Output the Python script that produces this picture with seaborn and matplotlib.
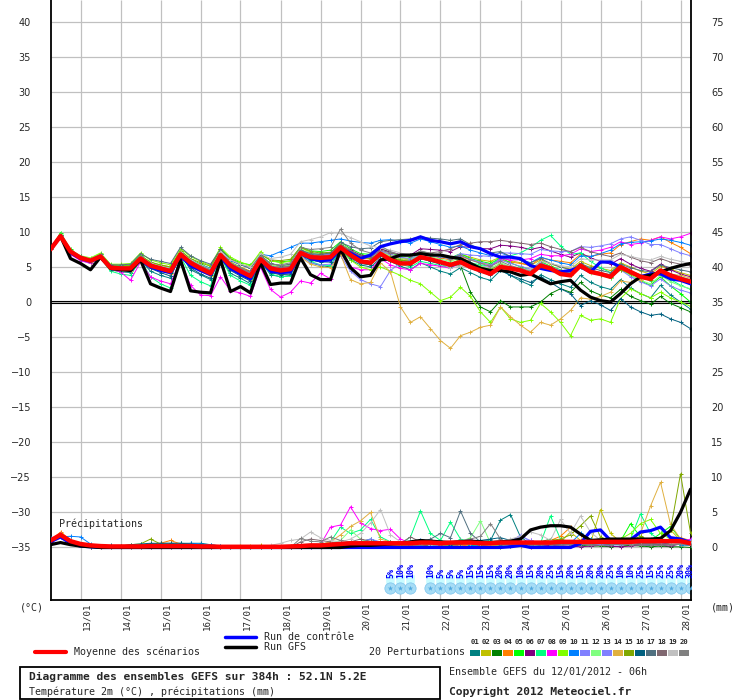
import matplotlib
matplotlib.use("Agg")
import matplotlib.pyplot as plt
import matplotlib.transforms as mtransforms
from matplotlib.patches import Rectangle
from matplotlib.lines import Line2D
import seaborn as sns

# --- data (6-hourly, 0..384h from 12/01 06h) ---
hours = list(range(0, 385, 6))
day_hours = list(range(18, 385, 24))
day_labels = ["13/01", "14/01", "15/01", "16/01", "17/01", "18/01", "19/01", "20/01",
              "21/01", "22/01", "23/01", "24/01", "25/01", "26/01", "27/01", "28/01"]

member_ids = ["01", "02", "03", "04", "05", "06", "07", "08", "09", "10",
              "11", "12", "13", "14", "15", "16", "17", "18", "19", "20"]
member_colors = ["#008080", "#c0c000", "#008000", "#ff8000", "#00ff00", "#800080", "#00ff80",
                 "#ff00ff", "#80ff00", "#0080ff", "#8080ff", "#80ff80", "#8080ff", "#e0b040",
                 "#80a800", "#006080", "#507080", "#806870", "#c0c0c0", "#808080"]

# 2m temperature (°C)
t_mean = [7.5,9.4,7.2,6.3,5.9,6.5,4.9,4.8,4.8,6.2,5.2,4.8,4.4,6.8,5.6,4.8,4.1,6.7,5.2,4.4,3.7,6.1,4.8,4.5,4.7,7.0,6.4,6.3,6.4,7.8,6.7,5.8,5.6,
          6.9,6.0,5.5,5.5,6.4,6.1,5.7,5.3,5.7,5.0,4.5,4.0,5.0,4.8,4.5,4.0,5.2,4.8,4.0,3.8,5.2,4.3,4.0,3.6,5.0,4.3,3.6,3.3,4.5,3.8,3.3,2.9]
t_ctrl = [7.5,9.4,7.0,6.2,5.8,6.4,5.0,4.7,4.6,6.0,5.0,4.5,4.2,6.6,5.2,4.5,3.9,6.4,4.8,4.0,3.3,6.0,4.4,4.2,4.3,6.9,6.2,5.9,6.0,7.6,7.0,6.2,6.7,
          7.9,8.3,8.6,8.8,9.3,8.8,8.6,8.3,8.6,7.9,7.6,6.9,6.4,6.4,6.2,5.2,4.8,4.5,4.3,4.5,5.0,4.3,5.7,5.7,5.0,4.3,3.6,4.0,4.0,3.3,3.1,2.6]
t_gfs = [7.5,9.4,6.2,5.5,4.6,6.4,4.8,4.6,4.5,6.0,2.6,2.0,1.5,6.0,1.6,1.4,1.3,6.0,1.5,2.2,1.3,5.6,2.5,2.7,2.7,6.3,3.9,3.2,3.2,7.5,4.9,3.6,3.8,
         6.0,6.2,6.7,6.7,6.9,6.7,6.7,6.4,6.2,5.5,4.8,4.5,4.5,4.3,3.8,4.0,3.3,2.6,2.9,3.1,1.7,0.7,0.2,0.0,1.2,2.6,3.6,3.8,4.3,4.8,5.2,5.5]

t01 = [7.5,9.5,7.0,6.1,5.6,6.4,4.6,4.3,4.2,6.0,4.4,3.8,3.4,6.9,4.6,3.9,3.2,6.5,4.1,3.4,2.6,5.8,3.9,3.6,3.8,6.8,5.6,5.2,5.0,7.6,6.0,5.3,5.0,
       6.2,5.8,5.1,4.6,5.6,5.0,4.4,4.0,4.9,4.2,3.5,3.1,4.5,3.8,3.0,2.4,3.9,3.2,2.6,2.1,3.8,2.8,2.2,1.8,3.2,2.0,1.2,0.6,2.4,1.0,0.0,-1.0]
t02 = [7.5,9.6,7.3,6.5,6.1,6.6,5.3,5.2,5.1,6.5,5.6,5.3,5.0,7.2,6.0,5.3,4.7,7.0,5.7,5.0,4.4,6.6,5.4,5.0,5.1,7.3,6.9,6.8,6.9,8.2,7.3,6.6,6.4,
       7.2,6.8,6.3,6.1,7.0,6.7,6.5,6.2,6.8,6.4,6.0,5.8,6.4,5.9,5.6,5.2,6.0,5.4,5.0,4.7,5.8,5.2,4.8,4.5,5.6,5.0,4.4,4.0,5.1,4.7,4.2,3.8]
t03 = [7.5,9.5,7.2,6.2,5.8,6.5,4.8,4.6,4.6,6.2,5.0,4.5,4.1,6.7,5.4,4.5,3.8,6.6,4.9,4.1,3.4,6.0,4.5,4.2,4.4,7.0,6.3,6.1,6.2,7.8,6.8,6.0,5.8,
       6.8,6.3,5.9,5.8,6.5,6.2,5.8,5.5,5.2,1.4,-0.7,-1.4,0.2,-0.7,-0.7,-0.7,0.0,1.2,1.9,1.4,2.8,1.6,1.0,0.6,1.8,0.8,0.2,-0.3,0.8,-0.2,-0.8,-1.4]
t04 = [7.5,9.4,7.3,6.4,6.0,6.6,5.1,5.0,5.1,6.3,5.5,5.2,4.9,6.9,5.9,5.2,4.6,6.9,5.6,4.9,4.3,6.4,5.3,5.0,5.2,7.2,6.8,6.7,6.8,8.0,7.1,6.3,6.1,
       7.2,6.6,6.2,6.0,6.8,6.6,6.3,6.0,6.5,6.0,5.6,5.3,6.0,5.7,5.5,5.2,6.3,6.0,5.8,5.6,6.8,6.5,6.8,7.0,8.2,8.6,9.0,8.8,9.3,8.5,7.8,6.9]
t05 = [7.5,9.9,7.5,6.5,6.1,6.9,5.3,5.2,5.3,6.7,5.6,5.1,4.8,7.3,6.1,5.4,4.8,7.6,6.2,5.6,5.3,6.9,5.9,5.7,5.9,7.9,7.3,7.2,7.4,8.6,7.6,6.9,6.8,
       7.7,7.0,6.6,6.4,7.2,6.9,6.6,6.3,6.9,6.2,5.8,5.5,6.3,5.6,5.0,4.6,5.8,5.1,4.6,4.2,5.5,4.7,4.0,3.4,4.8,3.9,3.0,2.4,3.6,2.3,1.2,0.0]
t06 = [7.5,9.3,7.1,6.3,6.0,6.6,5.0,4.9,4.9,6.4,5.4,5.0,4.7,7.1,5.9,5.1,4.5,7.0,5.6,4.9,4.3,6.5,5.4,5.1,5.3,7.4,6.9,6.8,7.0,8.3,7.4,6.7,6.5,
       7.6,7.1,6.8,6.7,7.6,7.5,7.4,7.2,7.9,7.8,7.6,7.6,8.1,8.0,7.8,7.5,7.8,7.3,6.8,6.4,7.0,6.3,5.8,5.4,6.2,5.4,4.8,4.4,5.4,4.6,4.0,3.6]
t07 = [7.5,9.5,7.0,6.0,5.5,6.3,4.4,4.0,3.8,6.0,3.6,2.6,2.0,6.5,3.8,2.9,2.3,6.4,3.8,3.0,2.4,6.0,4.0,3.6,3.7,7.0,5.8,5.3,5.2,7.8,6.3,5.6,5.3,
       6.5,6.0,5.4,5.0,5.8,5.5,5.2,4.9,6.0,5.6,5.3,5.1,6.4,6.6,7.0,7.8,8.8,9.5,8.0,6.8,7.0,5.8,4.9,4.2,5.4,4.4,3.6,3.0,4.4,3.2,2.4,1.8]
t08 = [7.5,9.2,6.8,5.9,5.5,6.3,4.7,4.3,3.1,5.7,3.6,3.0,2.6,6.0,2.4,1.0,0.9,3.6,1.6,1.3,0.8,5.0,1.8,0.7,1.4,3.0,2.7,4.1,3.3,6.9,5.0,4.6,4.6,
       6.2,5.3,4.8,4.6,5.5,5.3,5.1,4.8,5.6,5.2,5.0,5.0,6.2,6.0,6.0,6.2,6.8,6.6,6.6,6.8,7.6,7.2,7.4,7.8,8.6,8.2,8.4,8.8,9.3,9.0,9.3,9.8]
t09 = [7.5,9.6,7.4,6.6,6.3,7.0,5.4,5.4,5.5,7.0,6.0,5.6,5.3,7.6,6.5,5.8,5.2,7.8,6.4,5.7,5.2,7.2,5.9,5.6,5.8,7.8,7.0,6.6,6.4,7.6,6.0,5.0,4.6,
       5.0,4.4,3.8,3.1,2.6,1.4,0.2,0.7,2.1,0.8,-1.4,-2.9,-0.7,-2.4,-2.9,-2.6,-0.2,-1.4,-2.9,-4.8,-1.9,-2.6,-2.4,-2.9,0.5,1.9,1.2,0.6,1.4,0.6,0.0,-0.6]
t10 = [7.5,9.4,7.2,6.4,6.0,6.6,5.1,5.0,5.0,6.4,5.5,5.1,4.8,7.0,6.0,5.3,4.8,7.0,5.9,5.3,4.9,6.8,6.6,7.2,7.8,8.4,8.4,8.6,8.8,9.0,8.7,8.5,8.4,
       8.8,8.9,8.6,8.4,9.0,8.6,8.2,7.8,8.0,7.4,7.0,6.6,7.0,6.5,6.0,5.6,6.4,6.0,5.6,5.3,6.6,6.5,6.9,7.4,8.3,8.5,8.6,8.7,9.0,8.8,8.5,8.1]
t11 = [7.5,9.3,7.1,6.2,5.8,6.4,4.8,4.6,4.6,6.1,5.0,4.6,4.3,6.6,5.3,4.6,4.0,6.4,4.9,4.2,3.6,5.8,4.4,4.1,4.2,6.6,5.6,5.3,5.4,6.6,4.4,3.2,2.6,
       2.2,4.5,5.6,6.0,6.8,6.6,6.4,6.2,6.9,6.7,6.6,6.5,7.0,7.0,6.9,6.8,7.5,7.3,7.2,7.2,7.9,7.8,8.0,8.3,9.0,9.3,8.8,8.2,8.2,7.6,7.0,6.6]
t12 = [7.5,9.7,7.4,6.5,6.2,6.8,5.2,5.1,5.1,6.6,5.6,5.1,4.8,7.2,6.1,5.2,4.5,7.1,5.6,4.9,4.2,6.5,5.3,5.1,5.3,7.5,7.0,6.9,7.0,8.3,7.3,6.5,6.3,
       7.2,6.6,6.2,6.1,6.9,6.5,6.1,5.8,6.3,5.6,5.1,4.8,5.6,5.0,4.5,4.1,5.3,4.7,4.1,3.8,5.0,4.2,3.8,3.4,4.6,3.8,3.1,2.6,3.8,2.9,2.3,1.9]
t13 = [7.5,9.4,7.2,6.3,5.9,6.5,4.9,4.8,4.7,6.3,5.3,4.8,4.5,6.9,5.7,4.9,4.3,6.9,5.4,4.7,4.1,6.3,5.1,4.9,5.1,7.2,6.8,6.7,6.8,8.0,7.2,6.5,6.3,
       7.3,6.8,6.4,6.2,7.0,6.8,6.5,6.2,6.6,6.1,5.7,5.3,6.0,5.5,5.1,4.7,5.6,5.0,4.5,4.1,5.2,4.4,3.9,3.5,4.6,3.6,2.9,2.3,3.3,2.3,1.7,1.3]
t14 = [7.5,9.3,7.0,6.1,5.7,6.3,4.7,4.5,4.4,5.9,4.8,4.4,4.0,6.5,5.2,4.4,3.7,6.3,4.7,3.9,3.2,5.7,4.3,3.9,4.0,6.4,5.4,5.0,4.9,6.8,3.2,2.6,2.8,
       5.6,4.3,-0.7,-2.9,-2.1,-3.8,-5.5,-6.6,-4.8,-4.3,-3.6,-3.3,-0.7,-2.1,-3.3,-4.3,-2.9,-3.3,-2.4,-1.2,0.6,0.4,0.8,1.4,3.0,2.8,3.2,3.6,4.6,4.0,3.8,3.4]
t15 = [7.5,9.5,7.3,6.4,6.0,6.6,5.2,5.1,5.2,6.6,5.7,5.3,5.0,7.3,6.2,5.6,5.1,7.5,6.1,5.4,5.0,6.8,6.0,5.9,6.1,7.8,7.2,7.0,7.1,8.2,7.2,6.4,6.2,
       7.0,6.4,6.0,5.8,6.6,6.2,5.8,5.5,6.1,5.5,5.0,4.6,5.4,4.9,4.5,4.1,5.2,4.7,4.2,3.9,5.0,4.4,3.9,3.5,4.6,4.0,3.5,3.1,4.3,3.6,3.2,3.0]
t16 = [7.5,9.4,7.1,6.2,5.8,6.4,4.7,4.5,4.5,6.1,4.8,4.2,3.7,6.6,4.9,4.0,3.4,6.4,4.5,3.7,3.0,5.9,4.2,3.9,4.0,6.9,6.0,5.7,5.7,7.5,6.3,5.5,5.3,
       6.6,6.0,5.6,5.3,6.2,5.8,5.4,5.0,5.5,4.8,4.3,3.9,4.6,3.8,3.3,2.8,3.6,2.8,1.9,1.2,-0.5,0.2,-0.4,-1.2,0.5,-0.7,-1.4,-1.9,-1.7,-2.4,-2.9,-3.8]
t17 = [7.5,9.5,7.3,6.5,6.1,6.8,5.3,5.3,5.4,6.9,6.1,5.8,5.5,7.8,6.6,5.9,5.4,7.5,6.0,5.3,4.8,6.7,5.5,5.2,5.4,7.4,6.9,6.8,7.0,8.5,7.9,7.6,7.7,
       8.6,8.8,8.9,9.0,9.3,9.1,9.0,8.8,9.0,8.2,7.5,7.0,7.2,6.5,6.0,5.6,6.2,5.5,5.0,4.6,5.5,4.9,4.5,4.2,5.4,4.9,4.5,4.3,5.3,4.9,4.6,4.3]
t18 = [7.5,9.4,7.2,6.4,6.0,6.5,5.0,4.9,4.9,6.4,5.4,5.0,4.6,7.0,5.8,5.1,4.5,6.9,5.5,4.8,4.2,6.3,5.1,4.9,5.1,7.2,6.7,6.6,6.7,8.1,7.3,6.6,6.4,
       7.4,7.0,6.7,6.5,7.2,7.0,7.2,7.6,8.2,8.4,8.6,8.6,8.8,8.6,8.4,8.2,8.4,7.9,7.5,7.2,7.8,7.2,6.8,6.5,7.0,6.4,5.9,5.6,6.2,5.7,5.4,5.2]
t19 = [7.5,9.4,7.2,6.3,6.0,6.6,5.0,5.0,5.0,6.5,5.5,5.1,4.8,7.1,6.0,5.3,4.7,7.2,6.0,5.4,5.0,6.9,6.2,6.4,6.8,8.6,8.9,9.3,9.9,9.8,9.2,8.6,8.0,
       7.7,7.4,7.0,6.6,7.0,6.3,5.6,4.8,5.2,4.8,4.5,4.3,5.3,5.0,4.8,4.6,5.8,5.5,5.2,5.0,6.2,6.0,6.0,6.0,6.8,6.5,6.2,6.0,6.5,6.1,5.8,5.5]
t20 = [7.5,9.5,7.3,6.4,6.0,6.6,5.1,5.0,5.0,6.5,5.4,5.0,4.7,7.0,5.9,5.2,4.6,6.9,5.5,4.8,4.2,6.5,5.4,5.3,5.6,7.8,7.5,7.6,7.8,10.4,8.4,7.4,7.0,
       8.0,7.2,6.7,6.5,7.3,6.9,6.5,6.2,6.7,6.0,5.5,5.1,5.8,5.2,4.8,4.4,5.5,4.9,4.4,4.1,5.2,4.6,4.2,3.9,5.0,4.4,3.9,3.6,4.6,4.0,3.6,3.2]

# precipitation (mm / 6h)
p_mean = [1.0,1.8,0.9,0.5,0.3, 0.2,0.15,0.15,0.15,0.15, 0.2,0.2,0.2,0.2,0.2, 0.15,0.15,0.1,0.1,0.1, 0.1,0.1,0.1,0.1,0.15,
          0.2,0.3,0.3,0.4,0.5, 0.6,0.6,0.6,0.6,0.6, 0.6,0.6,0.7,0.7,0.6, 0.7,0.7,0.7,0.6,0.6, 0.7,0.7,0.7,0.7,0.7,
          0.7,0.8,0.8,0.8,0.8, 0.8,0.8,0.8,0.8,0.9, 0.9,0.9,0.9,0.9,0.6]
p_ctrl = [0.8,1.5,0.6,0.2,0.1, 0,0,0,0,0, 0,0,0,0,0, 0,0,0,0,0, 0,0,0,0,0,
          0,0,0,0,0, 0,0,0,0,0, 0,0,0,0,0, 0,0,0,0,0, 0.0,0.1,0.3,0.0,0.0,
          0.0,0.0,0.0,0.6,2.3, 2.5,1.0,0.9,1.1,2.2, 2.4,2.9,1.4,1.2,0.7]
p_gfs = [0.4,0.7,0.4,0.2,0.1, 0,0,0,0,0, 0,0,0,0,0, 0,0,0,0,0, 0,0,0,0,0,
         0,0,0,0,0, 0.2,0.3,0.3,0.4,0.5, 0.6,0.8,1.0,0.9,0.8, 0.7,0.8,0.9,0.8,0.7, 0.8,0.9,1.2,2.5,2.9,
         3.1,3.1,2.9,1.9,1.0, 1.1,1.2,1.2,1.2,1.2, 1.2,1.3,2.4,5.0,8.3]

p01 = [1.2,1.6,0.9,0.5,0.3, 0.2,0.1,0.1,0.2,0.3, 0.5,0.6,0.6,0.6,0.6, 0.6,0.4,0.2,0.1,0.1, 0.0,0.0,0.1,0.1,0.0,
       0.1,0.2,0.3,0.2,0.4, 0.5,0.8,1.2,0.6,0.4, 0.5,0.3,0.4,0.6,0.8, 0.5,0.4,0.6,0.8,1.0, 3.9,4.7,1.5,0.5,0.3,
       0.4,0.3,0.5,0.8,0.6, 0.4,0.3,1.2,0.5,0.4, 0.3,0.5,0.8,0.4,0.3]
p02 = [1.0,2.0,1.0,0.4,0.2, 0.1,0.1,0.1,0.1,0.2, 0.2,0.1,0.1,0.0,0.0, 0.0,0.0,0.1,0.1,0.2, 0.2,0.3,0.2,0.1,0.1,
       0.2,0.3,0.4,0.5,0.6, 0.8,0.6,0.5,0.4,0.3, 0.3,0.2,0.3,0.4,0.3, 0.2,0.3,0.4,0.5,0.6, 0.8,0.5,0.4,0.3,0.5,
       0.6,0.8,2.2,1.0,0.6, 5.4,2.0,0.8,0.6,0.5, 0.8,1.2,2.5,1.0,0.6]
p03 = [0.8,1.7,0.7,0.3,0.1, 0,0,0,0,0, 0,0,0,0,0, 0.1,0.2,0.1,0,0, 0,0,0,0,0.1,
       0.2,0.1,0.1,0.2,0.2, 0.3,0.2,0.2,0.2,0.3, 0.2,0.3,0.4,0.3,0.2, 0.2,0.4,0.6,0.3,0.2, 0.1,0.2,0.3,0.5,0.8,
       1.2,0.8,0.5,0.3,0.2, 0.2,0.1,0.2,0.3,0.2, 0.1,0.2,0.1,0.1,0.0]
p04 = [1.0,2.2,1.1,0.5,0.2, 0.1,0.1,0.0,0.0,0.1, 0.3,0.6,1.0,0.5,0.3, 0.2,0.1,0.1,0.0,0.0, 0.0,0.0,0.0,0.1,0.1,
       0.2,0.2,0.2,0.3,0.2, 0.4,0.6,0.5,0.4,0.3, 0.3,0.4,0.3,0.5,0.4, 0.3,0.2,0.4,0.5,0.4, 0.3,0.4,0.3,0.5,0.8,
       1.0,1.6,2.9,1.8,1.2, 0.8,0.5,0.4,0.6,0.8, 0.7,1.0,1.2,1.4,1.0]
p05 = [0.9,1.8,0.8,0.4,0.2, 0.1,0,0,0,0, 0,0.1,0.2,0.1,0, 0,0,0,0,0, 0,0,0,0,0,
       0.1,0.1,0.2,0.1,0.3, 0.4,0.6,0.5,0.8,0.6, 0.4,0.3,0.5,0.7,0.5, 0.4,0.6,0.3,0.2,0.4, 0.6,0.8,0.5,0.3,0.5,
       0.8,0.5,0.4,0.6,1.2, 0.8,0.6,0.9,3.4,1.5, 1.0,2.0,3.0,1.2,0.8]
p06 = [0.8,1.6,0.8,0.3,0.1, 0.0,0.0,0.1,0.2,0.1, 0,0,0,0,0, 0,0,0,0,0, 0,0,0,0,0,
       0.0,0.1,0.1,0.1,0.2, 0.2,0.3,0.2,0.4,0.3, 0.2,0.2,0.3,0.2,0.2, 0.3,0.4,0.5,0.4,0.3, 0.2,0.3,0.2,0.1,0.2,
       0.3,0.2,0.2,0.1,0.2, 0.3,0.2,0.1,0.2,0.3, 0.4,0.3,0.2,0.5,0.4]
p07 = [1.1,1.9,0.9,0.4,0.2, 0.1,0,0,0,0, 0,0,0,0.1,0.1, 0,0,0,0,0, 0,0,0,0,0,
       0.1,0.2,0.4,0.8,2.9, 2.0,2.5,4.0,1.5,0.8, 0.5,1.5,5.2,2.0,1.0, 3.6,1.2,0.8,0.5,0.6, 0.8,0.6,0.5,0.4,0.6,
       4.5,1.2,0.8,0.5,0.6, 0.5,0.4,0.6,1.2,4.8, 2.0,1.0,0.6,0.5,0.4]
p08 = [1.0,1.9,0.9,0.5,0.3, 0.2,0.1,0.1,0,0, 0,0,0,0,0, 0,0,0,0,0, 0,0.1,0.2,0.1,0.1,
       0.2,0.3,0.4,2.9,3.2, 5.8,3.5,2.7,2.4,2.6, 1.2,0.6,0.4,0.5,0.8, 0.6,0.8,1.2,0.6,0.5, 0.4,0.6,0.8,1.0,0.6,
       0.5,0.6,0.8,0.6,0.5, 0.4,0.6,0.5,0.8,0.6, 0.5,0.4,0.6,0.8,1.2]
p09 = [0.9,1.7,0.8,0.4,0.2, 0.1,0,0,0,0, 0,0,0,0.1,0, 0,0,0,0,0, 0,0,0,0,0.1,
       0.1,0.2,0.1,0.2,0.4, 0.6,0.4,0.5,0.3,0.2, 0.3,0.4,0.5,0.3,0.2, 0.4,0.6,0.8,0.5,0.3, 0.2,0.3,0.5,0.7,0.5,
       0.4,0.6,0.5,0.8,0.6, 0.5,0.8,1.2,2.0,3.4, 4.0,2.0,1.2,0.8,0.6]
p10 = [1.3,1.5,1.6,1.5,0.5, 0.2,0.1,0.1,0,0, 0,0.1,0.2,0.3,0.6, 0.5,0.4,0.2,0.1,0, 0,0,0,0,0.1,
       0.2,0.4,0.3,0.2,0.3, 0.5,0.4,0.3,0.2,0.4, 0.6,0.8,1.0,0.6,0.4, 0.3,0.5,0.4,0.3,0.5, 0.6,0.4,0.3,0.5,0.6,
       0.4,0.5,0.6,2.0,1.2, 0.8,0.6,0.5,0.4,0.6, 0.5,0.8,0.6,0.4,0.3]
p11 = [0.9,1.7,0.8,0.4,0.2, 0.1,0,0,0,0, 0,0,0,0,0, 0,0,0,0,0, 0,0,0,0,0,
       0.0,0.1,0.1,0.2,0.3, 0.5,0.8,1.2,0.8,0.5, 0.4,0.3,0.4,0.5,0.6, 0.8,1.0,0.6,0.5,0.4, 0.6,0.9,1.6,1.0,0.6,
       0.5,0.4,0.6,0.8,0.5, 0.4,0.3,0.4,0.5,0.6, 0.8,0.6,0.5,0.9,1.0]
p12 = [1.0,1.8,0.9,0.4,0.2, 0.1,0,0,0,0, 0,0,0,0,0, 0,0,0,0,0, 0,0,0,0,0,
       0.1,0.2,0.3,0.6,1.0, 2.5,1.2,0.6,0.4,0.3, 0.5,0.6,0.5,0.4,0.3, 0.6,0.8,1.4,3.8,0.6, 0.4,0.3,0.4,0.5,0.6,
       0.8,0.6,0.5,0.4,0.6, 0.8,1.0,0.6,0.5,0.8, 1.0,0.8,0.6,0.5,0.4]
p13 = [0.9,1.6,0.8,0.4,0.2, 0.1,0.1,0,0,0, 0,0,0,0,0, 0,0,0,0,0, 0,0,0,0,0,
       0.1,0.1,0.2,0.2,0.3, 0.4,0.3,0.5,0.6,0.4, 0.3,0.5,0.6,0.4,0.3, 0.5,0.4,0.6,0.8,0.6, 0.5,0.8,1.8,0.8,0.5,
       0.6,0.8,0.6,0.5,0.4, 0.5,0.6,0.8,0.6,0.5, 0.8,0.7,0.6,0.9,0.7]
p14 = [0.9,1.8,0.9,0.4,0.2, 0.1,0,0,0,0, 0,0,0,0,0, 0,0,0,0,0, 0,0,0,0,0,
       0.1,0.2,0.4,0.8,1.8, 3.0,3.8,5.0,1.2,0.8, 0.6,0.4,0.3,0.5,0.4, 0.3,0.4,0.5,0.4,0.3, 0.4,0.3,0.2,0.3,0.4,
       0.5,0.4,0.6,0.8,0.5, 0.6,0.5,0.8,1.2,2.0, 5.9,9.3,3.3,1.2,0.8]
p15 = [0.9,1.7,0.8,0.4,0.3, 0.2,0.1,0.2,0.4,0.5, 1.2,0.5,0.3,0.2,0.1, 0.1,0,0,0,0.1, 0.1,0.2,0.1,0.1,0.2,
       0.2,0.3,0.2,0.3,0.4, 0.5,0.4,0.3,0.5,0.4, 0.3,0.4,0.3,0.5,0.4, 0.3,0.5,0.6,0.4,0.5, 0.6,0.8,0.5,0.4,0.6,
       1.0,1.2,1.8,3.1,4.5, 1.5,0.6,0.8,1.0,1.6, 0.8,1.0,2.5,10.5,2.1]
p16 = [1.0,1.6,0.8,0.4,0.2, 0.2,0.3,0.2,0.4,0.5, 0.6,0.6,0.6,0.6,0.5, 0.4,0.2,0.1,0,0, 0,0,0,0,0,
       0.1,0.2,0.3,0.2,0.4, 0.6,0.5,0.4,0.6,0.8, 0.5,0.4,0.6,0.8,0.5, 0.4,0.6,0.8,1.0,1.2, 1.4,1.0,0.8,0.6,0.5,
       0.4,0.5,0.6,0.4,0.5, 0.6,0.4,0.5,0.8,0.6, 0.5,0.4,0.6,0.5,0.4]
p17 = [1.0,1.8,0.9,0.5,0.3, 0.1,0.1,0,0,0, 0,0,0,0,0, 0,0,0,0,0, 0,0,0,0,0,
       0.1,0.2,0.2,0.3,0.4, 0.6,0.8,0.5,0.4,0.6, 0.5,0.6,0.8,1.2,2.0, 1.4,5.2,2.0,0.8,0.5, 0.4,0.5,0.6,0.4,0.3,
       0.5,0.4,0.6,0.5,0.4, 0.6,0.8,0.5,0.4,0.6, 0.5,0.4,0.5,0.6,0.4]
p18 = [0.9,1.7,0.8,0.4,0.2, 0.1,0,0,0,0, 0,0,0,0,0, 0,0,0,0,0, 0,0,0,0,0,
       0.8,1.2,1.0,0.8,0.6, 0.8,1.2,0.9,0.6,0.5, 0.6,1.5,0.8,0.5,0.4, 0.5,0.6,0.8,0.6,0.5, 0.8,1.0,0.6,0.5,0.4,
       0.6,0.5,0.4,0.5,0.6, 0.8,0.6,0.5,0.4,0.5, 0.6,0.5,0.4,0.5,0.6]
p19 = [0.9,1.7,0.8,0.4,0.2, 0.1,0,0,0,0, 0,0,0,0,0, 0,0,0,0,0, 0.0,0.1,0.3,0.6,1.0,
       1.2,2.2,1.4,1.0,0.8, 1.2,2.0,3.5,5.4,1.8, 0.8,0.6,0.5,0.4,0.6, 0.8,1.0,0.6,0.5,0.6, 0.8,1.2,1.6,2.2,1.8,
       1.0,4.0,2.0,4.5,2.2, 1.0,0.8,0.6,0.5,0.8, 1.2,0.8,0.6,0.5,0.7]
p20 = [0.9,1.7,0.8,0.4,0.2, 0.1,0,0,0,0, 0,0,0,0,0, 0,0,0,0,0, 0,0,0,0,0,
       1.3,0.9,0.8,1.5,1.0, 0.8,0.6,0.4,0.3,0.4, 0.5,0.4,0.3,0.5,0.6, 0.8,1.0,1.2,1.6,3.4, 1.2,0.4,0.3,0.4,0.5,
       0.4,0.3,0.4,0.5,0.4, 0.3,0.4,0.5,0.4,0.3, 0.4,0.3,0.4,0.5,0.3]

# snow probability (%) per 6h step
snow_hours = [204, 210, 216] + list(range(228, 385, 6))
snow_pct = [5, 10, 10, 10, 5, 5, 5, 15, 15, 15, 20, 20, 10, 15, 20, 25, 15, 20, 15, 20,
            20, 25, 10, 10, 25, 15, 25, 25, 20, 30]

temp_members = [t01, t02, t03, t04, t05, t06, t07, t08, t09, t10,
                t11, t12, t13, t14, t15, t16, t17, t18, t19, t20]
precip_members = [p01, p02, p03, p04, p05, p06, p07, p08, p09, p10,
                  p11, p12, p13, p14, p15, p16, p17, p18, p19, p20]

# --- figure ---
sns.set_style("white")
plt.rcParams["font.family"] = ["DejaVu Sans"]
MONO = "DejaVu Sans Mono"

W, H = 740, 700
fig = plt.figure(figsize=(W / 100, H / 100), dpi=100)
ax = fig.add_axes([50.5 / W, 100 / H, 640 / W, 600 / H])
ylo, yhi = -42.49, 43.07
ax.set_xlim(0, 384)
ax.set_ylim(ylo, yhi)

def fx(x):
    return x / W

def fy(y):
    return 1 - y / H

# grid
ax.vlines(day_hours, ylo, yhi, color="#c0c0c0", lw=0.9, zorder=0)
ax.hlines(list(range(-35, 41, 5)), 0, 384, color="#c0c0c0", lw=0.9, zorder=0)
ax.axhline(0.2, color="black", lw=0.8, zorder=1)
ax.axhline(-0.2, color="black", lw=0.8, zorder=1)

# temperature
for vals, col in zip(temp_members, member_colors):
    sns.lineplot(x=hours, y=vals, color=col, lw=0.7, marker="+", markersize=3.5,
                 markeredgewidth=0.7, markeredgecolor=col, ax=ax, zorder=2)
sns.lineplot(x=hours, y=t_ctrl, color="#0000ff", lw=2.3, ax=ax, zorder=3)
sns.lineplot(x=hours, y=t_gfs, color="black", lw=2.3, ax=ax, zorder=3)
sns.lineplot(x=hours, y=t_mean, color="#ff0000", lw=3.2, ax=ax, zorder=4)

# snow probabilities
ax.bar(snow_hours, 1.4, bottom=-40.2, width=6, color="#c8fbff", zorder=1)
ax.scatter(snow_hours, [-40.85] * len(snow_hours), s=66, color="#a6dcf5", edgecolors="#7cc4ee",
           linewidths=0.5, zorder=2)
ax.scatter(snow_hours, [-40.85] * len(snow_hours), s=16, marker="*", color="#4fa8e0",
           linewidths=0, zorder=3)
for h, p in zip(snow_hours, snow_pct):
    ax.text(h, -39.4, f"{p}%", rotation=90, ha="center", va="bottom", fontsize=6.0,
            color="#0000ff", family=MONO, fontweight="bold", zorder=4)

ax.text(5.3, -31.6, "Précipitations", fontsize=7.2, family=MONO, va="center", ha="left")

# precipitation on the mm axis
ax2 = ax.twinx()
ax2.set_ylim(ylo + 35, yhi + 35)
for vals, col in zip(precip_members, member_colors):
    sns.lineplot(x=hours, y=vals, color=col, lw=0.7, marker="+", markersize=3.5,
                 markeredgewidth=0.7, markeredgecolor=col, ax=ax2, zorder=2)
sns.lineplot(x=hours, y=p_ctrl, color="#0000ff", lw=2.3, ax=ax2, zorder=3)
sns.lineplot(x=hours, y=p_gfs, color="black", lw=2.3, ax=ax2, zorder=3)
sns.lineplot(x=hours, y=p_mean, color="#ff0000", lw=3.2, ax=ax2, zorder=4)
ax2.set_xlim(0, 384)

# axes styling
ax.set_yticks(list(range(-35, 41, 5)))
ax.tick_params(axis="y", length=0, pad=14, labelsize=7)
ax2.set_yticks(list(range(0, 76, 5)))
ax2.tick_params(axis="y", length=0, pad=15, labelsize=7)
ax.set_xticks(day_hours)
ax.set_xticklabels(day_labels, rotation=90, family=MONO, fontsize=6.6)
ax.tick_params(axis="x", length=0, pad=2)
shift = mtransforms.ScaledTranslation(6 / 100, 0, fig.dpi_scale_trans)
for lbl in ax.get_xticklabels():
    lbl.set_transform(lbl.get_transform() + shift)
ax.set_xlabel("")
ax.set_ylabel("")
ax2.set_ylabel("")
for a in (ax, ax2):
    for s in a.spines.values():
        s.set_visible(False)
for side in ("left", "right", "bottom"):
    ax.spines[side].set_visible(True)
    ax.spines[side].set_color("black")
    ax.spines[side].set_linewidth(1.3)

fig.text(fx(20), fy(607), "(°C)", family=MONO, fontsize=7.2, va="center", ha="left")
fig.text(fx(711), fy(607), "(mm)", family=MONO, fontsize=7.2, va="center", ha="left")

# legend
fig.add_artist(Line2D([fx(35), fx(66)], [fy(652), fy(652)], color="#ff0000", lw=3.0))
fig.text(fx(74), fy(652), "Moyenne des scénarios", family=MONO, fontsize=7.2, va="center")
fig.add_artist(Line2D([fx(225), fx(256)], [fy(636.5), fy(636.5)], color="#0000ff", lw=2.5))
fig.text(fx(264), fy(637), "Run de contrôle", family=MONO, fontsize=7.2, va="center")
fig.add_artist(Line2D([fx(225), fx(256)], [fy(646.5), fy(646.5)], color="black", lw=2.5))
fig.text(fx(264), fy(647), "Run GFS", family=MONO, fontsize=7.2, va="center")
fig.text(fx(369), fy(652), "20 Perturbations", family=MONO, fontsize=7.2, va="center")
for k, (mid, col) in enumerate(zip(member_ids, member_colors)):
    x0 = 470 + 11 * k
    fig.add_artist(Rectangle((fx(x0), fy(656)), 10 / W, 6 / H, transform=fig.transFigure,
                             facecolor=col, edgecolor="none"))
    fig.text(fx(x0 + 5), fy(641.5), mid, family=MONO, fontsize=5.2, fontweight="bold",
             ha="center", va="center")

# title box
fig.add_artist(Rectangle((fx(20), fy(699)), 420 / W, 32 / H, transform=fig.transFigure,
                         facecolor="none", edgecolor="black", lw=1.3))
fig.text(fx(29), fy(677), "Diagramme des ensembles GEFS sur 384h : 52.1N 5.2E",
         family=MONO, fontsize=8.1, fontweight="bold", va="center")
fig.text(fx(29), fy(692), "Température 2m (°C) , précipitations (mm)",
         family=MONO, fontsize=7.2, va="center")
fig.text(fx(449), fy(672), "Ensemble GEFS du 12/01/2012 - 06h", family=MONO, fontsize=7.2,
         va="center")
fig.text(fx(449), fy(692), "Copyright 2012 Meteociel.fr", family=MONO, fontsize=8.1,
         fontweight="bold", va="center")

fig.savefig("out.png", dpi=100)
